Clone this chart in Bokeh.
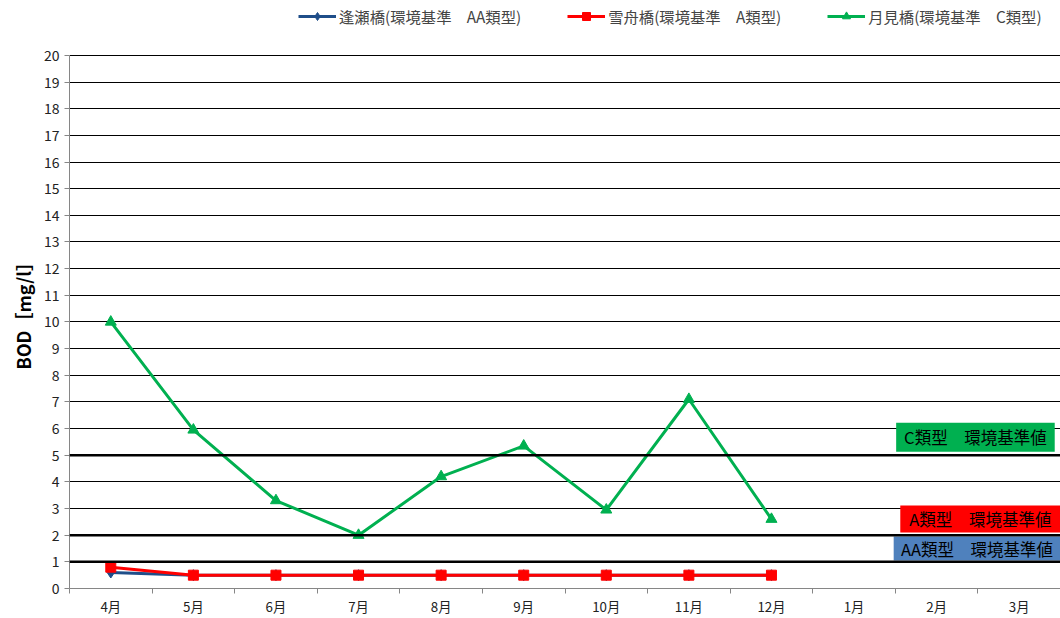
from bokeh.plotting import figure
from bokeh.models import Range1d, FixedTicker, Legend, LegendItem, Span, Title
from bokeh.embed import file_html
from bokeh.resources import INLINE
from bokeh.core.properties import value

months = ["4月", "5月", "6月", "7月", "8月", "9月", "10月", "11月", "12月", "1月", "2月", "3月"]
ouse = [0.6, 0.5, 0.5, 0.5, 0.5, 0.5, 0.5, 0.5, 0.5]
sesshu = [0.8, 0.5, 0.5, 0.5, 0.5, 0.5, 0.5, 0.5, 0.5]
tsukimi = [10.0, 5.95, 3.3, 2.0, 4.2, 5.35, 2.95, 7.1, 2.6]
standards = [("C類型　環境基準値", 5, "#00B050"), ("A類型　環境基準値", 2, "#FF0000"), ("AA類型　環境基準値", 1, "#4F81BD")]
yticks = list(range(0, 21))

FONT = "Noto Sans CJK JP"

p = figure(width=1060, height=618, output_backend="svg", toolbar_location=None,
           x_range=Range1d(0, 12), y_range=Range1d(0, 22.06),
           min_border_left=69, min_border_right=0, min_border_bottom=29, min_border_top=0)
p.outline_line_color = None
p.background_fill_color = "white"

# grid
p.xgrid.visible = False
p.ygrid.ticker = FixedTicker(ticks=yticks)
p.ygrid.grid_line_color = "black"
p.ygrid.grid_line_width = 1

for _, v, _c in standards:
    p.add_layout(Span(location=v, dimension="width", line_color="black", line_width=2.5))

# axes
p.yaxis.ticker = FixedTicker(ticks=yticks)
p.yaxis.bounds = (0, 20)
p.yaxis.axis_line_color = "#868686"
p.yaxis.major_tick_line_color = "#868686"
p.yaxis.major_tick_in = 0
p.yaxis.major_tick_out = 5
p.yaxis.minor_tick_line_color = None
p.yaxis.major_label_text_font = FONT
p.yaxis.major_label_text_font_size = "10.5pt"
p.yaxis.major_label_text_color = "#222222"

ytitle = Title(text="BOD［mg/l］", align="left", offset=219, text_font=FONT,
               text_font_style="bold", text_font_size="13.5pt", text_color="black")
p.add_layout(ytitle, "left")

centers = [i + 0.5 for i in range(len(months))]
p.xaxis.ticker = FixedTicker(ticks=centers, minor_ticks=list(range(0, 13)))
p.xaxis.major_label_overrides = {c: m for c, m in zip(centers, months)}
p.xaxis.axis_line_color = "#868686"
p.xaxis.major_tick_line_color = None
p.xaxis.minor_tick_line_color = "#868686"
p.xaxis.minor_tick_in = 0
p.xaxis.minor_tick_out = 5
p.xaxis.major_label_text_font = FONT
p.xaxis.major_label_text_font_size = "10pt"
p.xaxis.major_label_text_color = "#222222"
p.xaxis.major_label_standoff = 2

# standard label boxes
boxes = {
    5: (10.01, 11.93, 6.22, 5.13),
    2: (10.06, 12.0, 3.11, 2.10),
    1: (9.98, 12.0, 1.95, 1.05),
}
for text, v, col in standards:
    l, r, t, b = boxes[v]
    p.quad(left=[l], right=[r], top=[t], bottom=[b], fill_color=col, line_color=None)
    p.text(x=[(l + r) / 2], y=[(t + b) / 2], text=[text], text_align="center", text_baseline="middle",
           text_font=value(FONT), text_font_size="12.4pt", text_color="black")

x_data = centers[:len(tsukimi)]
r1l = p.line(x_data, ouse, line_color="#1F4E89", line_width=3)
r1m = p.scatter(x_data, ouse, marker="diamond", size=11, fill_color="#1F4E89", line_color="#1F4E89")
r2l = p.line(x_data, sesshu, line_color="#FF0000", line_width=3)
r2m = p.scatter(x_data, sesshu, marker="square", size=10, fill_color="#FF0000", line_color="#FF0000")
r3l = p.line(x_data, tsukimi, line_color="#00B050", line_width=3)
r3m = p.scatter(x_data, tsukimi, marker="triangle", size=11, fill_color="#00B050", line_color="#00B050")

legend = Legend(items=[
    LegendItem(label="逢瀬橋(環境基準　AA類型)", renderers=[r1l, r1m]),
    LegendItem(label="雪舟橋(環境基準　A類型)", renderers=[r2l, r2m]),
    LegendItem(label="月見橋(環境基準　C類型)", renderers=[r3l, r3m]),
], orientation="horizontal", location=(229, 561), border_line_color=None,
    label_text_font=FONT, label_text_font_size="11.5pt", glyph_width=38, spacing=46,
    padding=2, margin=0, label_standoff=3, background_fill_alpha=0)
p.add_layout(legend, "center")

open("out.html", "w").write(file_html(p, INLINE))
